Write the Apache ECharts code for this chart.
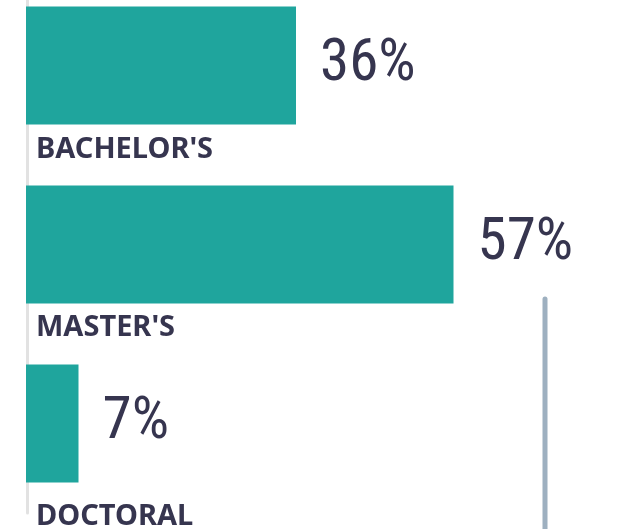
<!DOCTYPE html>
<html>
<head>
<meta charset="utf-8">
<script src="https://cdn.jsdelivr.net/npm/echarts@6/dist/echarts.min.js"></script>
<style>
  html, body { margin: 0; padding: 0; background: #fff; overflow: hidden; }
  #main { width: 629px; height: 553px; margin-top: -24px; }
</style>
</head>
<body>
<div id="main"></div>
<script>
// degree levels and their share
var categories = ["BACHELOR'S", "MASTER'S", "DOCTORAL"];
var shares = [36, 57, 7];

var ink = '#36354f';
var teal = '#1fa59d';
var labelDrop = [25, 24, 34];

var myChart = echarts.init(document.getElementById('main'));

myChart.setOption({
  animation: false,
  grid: { left: 26, top: 0, width: 600, height: 537 },
  xAxis: {
    type: 'value',
    min: 0,
    max: 80,
    show: false
  },
  yAxis: {
    type: 'category',
    inverse: true,
    data: categories,
    offset: -1,
    axisLine: { show: true, lineStyle: { color: '#e2e2e2', width: 3 } },
    axisTick: { show: false },
    axisLabel: { show: false }
  },
  series: [
    {
      name: 'share',
      type: 'bar',
      barCategoryGap: '34%',
      data: shares,
      itemStyle: { color: teal },
      label: {
        show: true,
        position: 'right',
        distance: 24,
        formatter: '{c}%',
        color: ink,
        fontFamily: "'Roboto Condensed', Roboto, sans-serif",
        fontSize: 59
      },
      z: 3
    },
    {
      // invisible twin bar that carries the category name under each bar
      name: 'names',
      type: 'bar',
      barGap: '-100%',
      barCategoryGap: '34%',
      silent: true,
      data: shares.map(function (v, i) {
        return {
          value: v,
          label: { offset: [0, labelDrop[i]] }
        };
      }),
      itemStyle: { color: 'rgba(0,0,0,0)' },
      label: {
        show: true,
        position: [10, '100%'],
        align: 'left',
        verticalAlign: 'middle',
        formatter: function (p) { return p.name; },
        color: ink,
        fontFamily: 'Noto Sans',
        fontWeight: 'bold',
        fontSize: 29
      },
      z: 4
    }
  ],
  graphic: [
    {
      type: 'line',
      shape: { x1: 545, y1: 323, x2: 545, y2: 570 },
      style: { stroke: '#9eb0c0', lineWidth: 5, lineCap: 'round' }
    }
  ]
});
</script>
</body>
</html>
